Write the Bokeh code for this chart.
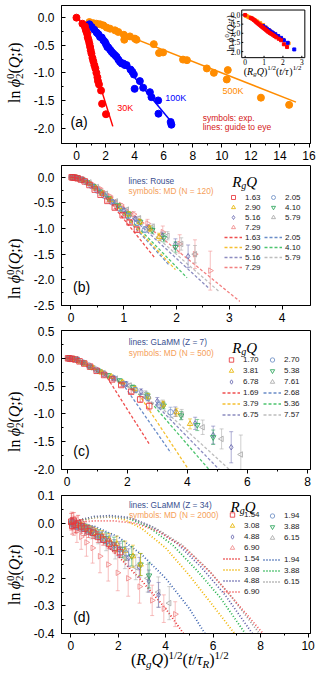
import math
from bokeh.plotting import figure
from bokeh.layouts import column, row
from bokeh.models import Range1d, FixedTicker, PrintfTickFormatter, Label, Legend, LegendItem, Div
from bokeh.embed import file_html
from bokeh.resources import INLINE

SANS = "Liberation Sans"
SERIF = "Liberation Serif"

# ---------------- panel (a): experiment ----------------
A30_X = [0.0, 0.41, 0.59, 0.66, 0.75, 0.78, 0.84, 0.89, 0.94, 0.98, 1.03, 1.10, 1.16, 1.23, 1.30, 1.37, 1.44, 1.48, 1.55, 1.69, 1.76, 2.03]
A30_Y = [0.0, -0.11, -0.16, -0.23, -0.29, -0.36, -0.41, -0.47, -0.53, -0.59, -0.65, -0.73, -0.79, -0.86, -0.92, -1.00, -1.08, -1.15, -1.21, -1.32, -1.56, -1.75]
A100_X = [0.89, 1.05, 1.23, 1.39, 1.51, 1.62, 1.74, 1.85, 1.96, 2.03, 2.12, 2.19, 2.31, 2.42, 2.53, 2.65, 2.76, 2.88, 2.99, 3.11, 3.22, 3.33, 3.45, 3.72, 3.84, 3.95, 4.36, 4.00, 4.59, 5.05, 5.16, 5.62, 5.64, 6.48, 6.53]
A100_Y = [-0.12, -0.17, -0.22, -0.27, -0.30, -0.35, -0.36, -0.41, -0.44, -0.48, -0.53, -0.54, -0.58, -0.62, -0.65, -0.68, -0.71, -0.76, -0.80, -0.83, -0.83, -0.86, -0.86, -0.94, -0.98, -1.03, -1.15, -1.29, -1.27, -1.35, -1.44, -1.50, -1.74, -1.89, -1.94]
A500_X = [0.89, 1.16, 1.39, 1.62, 1.85, 2.08, 2.31, 2.65, 2.88, 3.26, 3.68, 4.02, 4.13, 3.29, 5.32, 5.68, 5.96, 7.33, 7.60, 8.97, 9.45, 10.41, 10.34, 12.69, 14.63]
A500_Y = [-0.08, -0.10, -0.11, -0.12, -0.14, -0.18, -0.20, -0.23, -0.26, -0.31, -0.34, -0.38, -0.40, -0.40, -0.48, -0.64, -0.63, -0.76, -0.77, -0.92, -1.00, -0.95, -1.12, -1.45, -1.58]
FIT30_X = [0.2, 2.5]
FIT30_Y = [-0.03, -1.97]
FIT100_X = [0.9, 6.75]
FIT100_Y = [-0.10, -1.96]
FIT500_X = [0.8, 15.1]
FIT500_Y = [-0.05, -1.53]
# inset
INS_RED_X = [0.0, 0.3, 0.38, 0.45, 0.5, 0.55, 0.6, 0.66, 0.72, 0.78, 0.84, 0.9, 0.96, 1.02, 1.08, 1.15, 1.22, 1.3, 1.38, 1.46, 1.55, 1.65, 1.78, 1.9, 2.05, 2.22]
INS_RED_Y = [0.0, 0.16, 0.2, 0.26, 0.3, 0.35, 0.4, 0.45, 0.5, 0.55, 0.6, 0.65, 0.7, 0.75, 0.8, 0.86, 0.92, 0.98, 1.03, 1.08, 1.15, 1.22, 1.3, 1.38, 1.6, 1.75]
INS_ORA_X = [0.05, 0.12, 0.2, 0.28, 0.36, 0.45, 0.55, 0.65, 0.8, 0.95, 1.1, 1.3, 1.5, 1.75, 2.0, 2.3]
INS_ORA_Y = [0.05, 0.08, 0.12, 0.16, 0.2, 0.25, 0.3, 0.36, 0.45, 0.55, 0.68, 0.85, 1.0, 1.2, 1.35, 1.55]
INS_BLU_X = [0.95, 1.05, 1.15, 1.25, 1.35, 1.45, 1.6, 1.75, 1.9, 2.05, 2.25, 2.6]
INS_BLU_Y = [0.6, 0.68, 0.75, 0.82, 0.9, 0.96, 1.05, 1.15, 1.25, 1.38, 1.52, 1.88]
INS_XT = [0, 1, 2, 3]
INS_YT = [0.0, 0.5, 1.0, 1.5, 2.0]

# ---------------- panel (b): Rouse / MD N=120 ----------------
B_Q = ["1.63", "2.05", "2.90", "4.10", "5.16", "5.79", "7.29"]
B_X_163 = [0.013, 0.038, 0.075, 0.125, 0.19, 0.26, 0.35, 0.45, 0.56, 0.69, 0.83, 0.98, 1.11, 1.25]
B_Y_163 = [0.0, -0.003, -0.008, -0.02, -0.045, -0.08, -0.15, -0.24, -0.34, -0.46, -0.59, -0.74, -0.88, -1.02]
B_E_163 = [0.005, 0.005, 0.006, 0.008, 0.01, 0.012, 0.015, 0.018, 0.02, 0.025, 0.03, 0.035, 0.04, 0.05]
B_X_205 = [0.014, 0.042, 0.084, 0.14, 0.21, 0.29, 0.39, 0.5, 0.63, 0.77, 0.92, 1.09, 1.25, 1.4]
B_Y_205 = [0.0, -0.003, -0.009, -0.022, -0.05, -0.095, -0.17, -0.26, -0.36, -0.48, -0.61, -0.75, -0.89, -1.02]
B_E_205 = [0.005, 0.005, 0.006, 0.008, 0.01, 0.012, 0.015, 0.02, 0.025, 0.03, 0.035, 0.045, 0.05, 0.06]
B_X_290 = [0.017, 0.05, 0.1, 0.167, 0.25, 0.35, 0.47, 0.6, 0.75, 0.92, 1.1, 1.3, 1.49, 1.67]
B_Y_290 = [0.0, -0.003, -0.01, -0.038, -0.072, -0.125, -0.21, -0.32, -0.44, -0.58, -0.72, -0.87, -1.0, -1.16]
B_E_290 = [0.005, 0.005, 0.006, 0.008, 0.01, 0.013, 0.016, 0.02, 0.025, 0.03, 0.04, 0.05, 0.06, 0.07]
B_X_410 = [0.02, 0.06, 0.12, 0.2, 0.3, 0.42, 0.55, 0.71, 0.89, 1.09, 1.31, 1.54, 1.76, 1.98]
B_Y_410 = [0.0, -0.002, -0.013, -0.042, -0.095, -0.17, -0.28, -0.41, -0.55, -0.71, -0.87, -1.03, -1.18, -1.36]
B_E_410 = [0.005, 0.005, 0.006, 0.008, 0.01, 0.013, 0.017, 0.022, 0.028, 0.035, 0.045, 0.06, 0.08, 0.1]
B_X_516 = [0.022, 0.067, 0.133, 0.22, 0.33, 0.47, 0.62, 0.8, 1.0, 1.22, 1.47, 1.73, 1.98, 2.22]
B_Y_516 = [0.0, -0.003, -0.018, -0.045, -0.105, -0.2, -0.33, -0.48, -0.64, -0.81, -0.98, -1.14, -1.3, -1.54]
B_E_516 = [0.005, 0.005, 0.006, 0.008, 0.01, 0.014, 0.018, 0.024, 0.03, 0.04, 0.05, 0.07, 0.1, 0.22]
B_X_579 = [0.024, 0.07, 0.14, 0.235, 0.35, 0.49, 0.66, 0.85, 1.06, 1.29, 1.55, 1.83, 2.09, 2.35]
B_Y_579 = [0.0, -0.003, -0.018, -0.05, -0.1, -0.19, -0.32, -0.47, -0.63, -0.8, -0.97, -1.14, -1.3, -1.5]
B_E_579 = [0.005, 0.005, 0.006, 0.008, 0.01, 0.014, 0.018, 0.024, 0.03, 0.04, 0.06, 0.08, 0.12, 0.17]
B_X_729 = [0.026, 0.08, 0.16, 0.26, 0.4, 0.55, 0.74, 0.95, 1.19, 1.45, 1.74, 2.06, 2.35, 2.64]
B_Y_729 = [0.0, -0.004, -0.02, -0.055, -0.13, -0.22, -0.37, -0.54, -0.72, -0.9, -1.07, -1.3, -1.5, -1.82]
B_E_729 = [0.005, 0.005, 0.006, 0.008, 0.01, 0.014, 0.02, 0.028, 0.05, 0.08, 0.12, 0.18, 0.28, 0.38]
BL_Q = ["1.63", "2.05", "2.90", "4.10", "5.16", "5.79", "7.29"]
BL_X_163 = [0.0, 0.2, 0.4, 0.6, 1.58]
BL_Y_163 = [0.0, -0.05, -0.16, -0.3, -1.56]
BL_X_205 = [0.0, 0.2, 0.4, 0.6, 1.85]
BL_Y_205 = [0.0, -0.05, -0.15, -0.29, -1.7]
BL_X_290 = [0.0, 0.2, 0.4, 0.6, 1.98]
BL_Y_290 = [0.0, -0.045, -0.15, -0.28, -1.8]
BL_X_410 = [0.0, 0.2, 0.4, 0.6, 2.2]
BL_Y_410 = [0.0, -0.045, -0.14, -0.27, -1.96]
BL_X_516 = [0.0, 0.2, 0.4, 0.6, 2.62]
BL_Y_516 = [0.0, -0.04, -0.13, -0.26, -2.17]
BL_X_579 = [0.0, 0.2, 0.4, 0.6, 2.8]
BL_Y_579 = [0.0, -0.04, -0.13, -0.25, -2.22]
BL_X_729 = [0.0, 0.2, 0.4, 0.6, 3.2]
BL_Y_729 = [0.0, -0.04, -0.12, -0.24, -2.42]

# ---------------- panel (c): GLaMM Z=7 / MD N=500 ----------------
C_Q = ["1.70", "2.70", "3.81", "5.38", "6.78", "7.61"]
C_X_170 = [0.027, 0.082, 0.16, 0.27, 0.41, 0.57, 0.76, 0.98, 1.23, 1.5, 1.8, 2.13, 2.43, 2.73]
C_Y_170 = [0.0, -0.003, -0.01, -0.022, -0.055, -0.095, -0.15, -0.225, -0.3, -0.38, -0.48, -0.6, -0.74, -0.86]
C_E_170 = [0.01, 0.01, 0.012, 0.012, 0.015, 0.015, 0.018, 0.02, 0.022, 0.025, 0.03, 0.035, 0.05, 0.07]
C_X_270 = [0.034, 0.1, 0.21, 0.34, 0.52, 0.72, 0.96, 1.24, 1.55, 1.89, 2.27, 2.68, 3.06, 3.44]
C_Y_270 = [0.0, -0.004, -0.012, -0.022, -0.075, -0.13, -0.205, -0.29, -0.36, -0.46, -0.57, -0.71, -0.84, -0.97]
C_E_270 = [0.01, 0.01, 0.012, 0.012, 0.015, 0.018, 0.02, 0.025, 0.03, 0.035, 0.045, 0.055, 0.07, 0.09]
C_X_381 = [0.04, 0.12, 0.25, 0.41, 0.61, 0.86, 1.15, 1.47, 1.84, 2.25, 2.7, 3.19, 3.64, 4.09]
C_Y_381 = [0.0, -0.005, -0.014, -0.055, -0.1, -0.175, -0.255, -0.33, -0.43, -0.55, -0.69, -0.83, -0.97, -1.18]
C_E_381 = [0.01, 0.01, 0.012, 0.014, 0.016, 0.02, 0.024, 0.028, 0.034, 0.04, 0.05, 0.06, 0.07, 0.09]
C_X_538 = [0.05, 0.15, 0.29, 0.49, 0.73, 1.02, 1.36, 1.75, 2.19, 2.67, 3.21, 3.79, 4.33, 4.86]
C_Y_538 = [0.0, -0.006, -0.02, -0.075, -0.145, -0.22, -0.305, -0.4, -0.52, -0.67, -0.85, -1.03, -1.2, -1.42]
C_E_538 = [0.01, 0.01, 0.012, 0.014, 0.018, 0.022, 0.027, 0.033, 0.04, 0.05, 0.06, 0.075, 0.1, 0.13]
C_X_678 = [0.055, 0.16, 0.33, 0.55, 0.82, 1.15, 1.53, 1.97, 2.46, 3.0, 3.6, 4.26, 4.86, 5.46]
C_Y_678 = [0.0, -0.007, -0.024, -0.085, -0.165, -0.245, -0.345, -0.46, -0.6, -0.77, -0.96, -1.17, -1.38, -1.6]
C_E_678 = [0.01, 0.01, 0.012, 0.015, 0.02, 0.025, 0.03, 0.04, 0.05, 0.065, 0.085, 0.11, 0.16, 0.28]
C_X_761 = [0.058, 0.17, 0.35, 0.58, 0.87, 1.21, 1.62, 2.08, 2.6, 3.18, 3.81, 4.51, 5.14, 5.78]
C_Y_761 = [0.0, -0.008, -0.028, -0.09, -0.175, -0.265, -0.365, -0.49, -0.64, -0.82, -1.01, -1.24, -1.45, -1.73]
C_E_761 = [0.01, 0.01, 0.012, 0.015, 0.02, 0.025, 0.03, 0.04, 0.055, 0.07, 0.09, 0.13, 0.18, 0.35]
CL_Q = ["1.69", "2.68", "3.79", "5.36", "6.75", "7.57"]
CL_X_169 = [0.0, 0.5, 1.0, 1.3, 2.73]
CL_Y_169 = [0.0, -0.1, -0.22, -0.32, -1.54]
CL_X_268 = [0.0, 0.5, 1.0, 1.5, 1.9, 3.45]
CL_Y_268 = [0.0, -0.1, -0.22, -0.35, -0.5, -1.7]
CL_X_379 = [0.0, 0.5, 1.0, 1.5, 2.0, 2.4, 4.1]
CL_Y_379 = [0.0, -0.1, -0.22, -0.35, -0.5, -0.66, -2.05]
CL_X_536 = [0.0, 0.5, 1.0, 1.5, 2.0, 2.8, 4.8]
CL_Y_536 = [0.0, -0.1, -0.22, -0.35, -0.5, -0.8, -2.05]
CL_X_675 = [0.0, 0.5, 1.0, 1.5, 2.0, 3.0, 5.15]
CL_Y_675 = [0.0, -0.1, -0.22, -0.35, -0.5, -0.86, -2.05]
CL_X_757 = [0.0, 0.5, 1.0, 1.5, 2.0, 3.2, 5.5]
CL_Y_757 = [0.0, -0.1, -0.22, -0.35, -0.5, -0.92, -2.05]

# ---------------- panel (d): GLaMM Z=34 / MD N=2000 ----------------
D_Q = ["1.54", "1.94", "3.08", "3.88", "4.88", "6.15", "6.90"]
D_X_154 = [0.021, 0.062, 0.125, 0.21, 0.31, 0.44, 0.58, 0.75, 0.94, 1.14, 1.37, 1.62, 1.85, 2.08]
D_Y_154 = [0.005, -0.01, 0.008, -0.006, 0.0, -0.012, -0.02, -0.03, -0.035, -0.05, -0.06, -0.075, -0.09, -0.105]
D_E_154 = [0.03, 0.03, 0.03, 0.028, 0.028, 0.025, 0.025, 0.022, 0.02, 0.02, 0.02, 0.018, 0.018, 0.018]
D_X_194 = [0.023, 0.07, 0.14, 0.233, 0.35, 0.49, 0.65, 0.84, 1.05, 1.28, 1.54, 1.82, 2.07, 2.33]
D_Y_194 = [0.0, 0.004, -0.003, -0.008, -0.01, -0.016, -0.022, -0.03, -0.04, -0.052, -0.065, -0.08, -0.095, -0.11]
D_E_194 = [0.015, 0.015, 0.015, 0.015, 0.015, 0.015, 0.015, 0.015, 0.015, 0.018, 0.018, 0.02, 0.022, 0.025]
D_X_308 = [0.03, 0.09, 0.18, 0.29, 0.44, 0.62, 0.82, 1.06, 1.32, 1.62, 1.94, 2.29, 2.62, 2.94]
D_Y_308 = [0.0, 0.0, -0.003, -0.006, -0.01, -0.017, -0.025, -0.035, -0.045, -0.06, -0.075, -0.1, -0.12, -0.15]
D_E_308 = [0.01, 0.01, 0.01, 0.01, 0.012, 0.012, 0.014, 0.016, 0.018, 0.022, 0.028, 0.035, 0.04, 0.04]
D_X_388 = [0.033, 0.1, 0.2, 0.33, 0.5, 0.69, 0.92, 1.19, 1.49, 1.82, 2.18, 2.57, 2.94, 3.3]
D_Y_388 = [0.0, -0.002, -0.005, -0.008, -0.013, -0.02, -0.03, -0.042, -0.055, -0.075, -0.095, -0.12, -0.15, -0.19]
D_E_388 = [0.01, 0.01, 0.01, 0.012, 0.012, 0.014, 0.016, 0.018, 0.02, 0.024, 0.03, 0.035, 0.04, 0.045]
D_X_488 = [0.037, 0.11, 0.22, 0.37, 0.56, 0.78, 1.04, 1.33, 1.67, 2.04, 2.44, 2.89, 3.29, 3.7]
D_Y_488 = [0.0, -0.002, -0.006, -0.01, -0.016, -0.025, -0.037, -0.05, -0.07, -0.095, -0.125, -0.16, -0.21, -0.26]
D_E_488 = [0.01, 0.01, 0.012, 0.012, 0.014, 0.016, 0.018, 0.02, 0.024, 0.028, 0.032, 0.036, 0.04, 0.045]
D_X_615 = [0.04, 0.125, 0.25, 0.415, 0.62, 0.87, 1.16, 1.49, 1.87, 2.28, 2.74, 3.24, 3.69, 4.15]
D_Y_615 = [0.0, -0.003, -0.008, -0.014, -0.022, -0.035, -0.05, -0.07, -0.095, -0.125, -0.16, -0.2, -0.25, -0.29]
D_E_615 = [0.015, 0.015, 0.015, 0.018, 0.02, 0.022, 0.025, 0.03, 0.035, 0.04, 0.045, 0.05, 0.055, 0.06]
D_X_690 = [0.044, 0.13, 0.26, 0.44, 0.66, 0.92, 1.23, 1.58, 1.98, 2.42, 2.9, 3.43, 3.92, 4.4]
D_Y_690 = [0.01, -0.01, -0.03, -0.05, -0.07, -0.09, -0.12, -0.15, -0.18, -0.2, -0.23, -0.28, -0.31, -0.33]
D_E_690 = [0.03, 0.035, 0.04, 0.045, 0.05, 0.055, 0.06, 0.06, 0.065, 0.065, 0.06, 0.055, 0.05, 0.045]
DL_Q = ["1.54", "1.94", "3.08", "3.88", "4.88", "6.15", "6.90"]
DL_X_154 = [0.0, 0.5, 1.0, 2.0, 3.0, 4.0, 4.75]
DL_Y_154 = [0.0, -0.015, -0.04, -0.12, -0.21, -0.31, -0.4]
DL_X_194 = [0.0, 0.5, 1.0, 2.0, 3.0, 4.0, 5.0, 5.65]
DL_Y_194 = [0.0, -0.003, -0.012, -0.05, -0.115, -0.2, -0.31, -0.4]
DL_X_308 = [0.0, 0.5, 1.0, 1.6, 2.2, 3.0, 4.0, 5.0, 6.0, 6.9]
DL_Y_308 = [0.0, 0.012, 0.02, 0.022, 0.015, -0.02, -0.09, -0.19, -0.3, -0.4]
DL_X_388 = [0.0, 0.5, 1.0, 1.7, 2.4, 3.3, 4.3, 5.3, 6.3, 7.35]
DL_Y_388 = [0.0, 0.013, 0.022, 0.025, 0.018, -0.015, -0.08, -0.17, -0.27, -0.4]
DL_X_488 = [0.0, 0.5, 1.0, 1.7, 2.5, 3.4, 4.5, 5.5, 6.5, 7.65]
DL_Y_488 = [0.0, 0.014, 0.024, 0.027, 0.02, -0.012, -0.075, -0.16, -0.26, -0.4]
DL_X_615 = [0.0, 0.5, 1.0, 1.7, 2.6, 3.6, 4.7, 5.8, 6.8, 7.95]
DL_Y_615 = [0.0, 0.012, 0.02, 0.023, 0.015, -0.02, -0.08, -0.17, -0.27, -0.4]
DL_X_690 = [0.0, 0.5, 1.0, 1.8, 2.7, 3.7, 4.8, 5.9, 6.9, 8.1]
DL_Y_690 = [0.0, 0.005, 0.008, 0.008, 0.0, -0.03, -0.09, -0.18, -0.28, -0.4]

# styles (colours / markers)
SYM_COL = ["#e8383d", "#6f8fc6", "#e6b400", "#2ca55a", "#6b6bb0", "#a8a8a8", "#f08a8a"]
LIN_COL = ["#ef4f4f", "#6a8cc8", "#f5c030", "#4cc46e", "#8c8cc0", "#bdbdbd", "#f28080"]
DOT_COL = ["#e8292b", "#3d64b0", "#f0b400", "#23b14d", "#5a5aa5", "#999999", "#f05a5a"]
MARKERS = [("square", 0.0), ("circle", 0.0), ("triangle", 0.0), ("inverted_triangle", 0.0),
           ("diamond", 0.0), ("triangle", math.pi / 2), ("triangle", -math.pi / 2)]

FIG_W = 294        # figure width (plus 26 px label column = 320)
YL_W = 26


def make_fig(height, top, bottom, xr, yr, xt, xm, yt, ym, yfmt):
    p = figure(width=FIG_W, height=height, x_range=Range1d(*xr), y_range=Range1d(*yr),
               output_backend="svg", toolbar_location=None,
               min_border_left=35, min_border_right=10, min_border_top=top, min_border_bottom=bottom)
    p.grid.visible = False
    p.outline_line_color = "black"
    p.outline_line_alpha = 1.0
    p.outline_line_width = 1
    p.xaxis.ticker = FixedTicker(ticks=xt, minor_ticks=xm)
    p.yaxis.ticker = FixedTicker(ticks=yt, minor_ticks=ym)
    p.xaxis.formatter = PrintfTickFormatter(format="%d")
    p.yaxis.formatter = PrintfTickFormatter(format=yfmt)
    for ax in (p.xaxis, p.yaxis):
        ax.major_label_text_font = SANS
        ax.major_label_text_font_size = "12px"
        ax.major_label_text_color = "black"
        ax.axis_line_color = "black"
        ax.major_tick_line_color = "black"
        ax.minor_tick_line_color = "black"
    p.xaxis.major_tick_out = 4
    p.xaxis.major_tick_in = 0
    p.xaxis.minor_tick_out = 2
    p.xaxis.minor_tick_in = 0
    p.yaxis.major_tick_out = 0
    p.yaxis.major_tick_in = 4
    p.yaxis.minor_tick_out = 0
    p.yaxis.minor_tick_in = 2
    p.xaxis.major_label_standoff = 3
    p.yaxis.major_label_standoff = 7
    return p


def compose(p, x, y, xo, yo, pieces, scale=1.0, vertical=False, color="black"):
    adv = 0.0
    for text, size, style, shift, w in pieces:
        s = size * scale
        sh = shift * scale
        if vertical:
            lx, ly, ang = xo - sh, yo + adv, math.pi / 2
        else:
            lx, ly, ang = xo + adv, yo + sh, 0.0
        p.add_layout(Label(x=x, y=y, x_offset=lx, y_offset=ly, text=text, angle=ang,
                           text_font=SERIF, text_font_size=f"{s:.1f}px", text_font_style=style,
                           text_color=color, text_baseline="alphabetic", text_align="left"))
        adv += w * s


YLAB = [("ln", 16, "normal", 0, 0.98), ("ϕ", 16, "italic", 0, 0.52),
        ("2", 11, "normal", -3.5, 0.0), ("0", 11, "normal", 6.5, 0.5),
        ("(Q;t)", 16, "italic", 0, 2.0)]
XLAB_INS = [("(", 16, "normal", 0, 0.333), ("R", 16, "italic", 0, 0.611), ("g", 11, "italic", -3.5, 0.5),
            ("Q", 16, "italic", 0, 0.722), (")", 16, "normal", 0, 0.333), ("1/2", 11, "normal", 7, 1.28),
            ("(", 16, "normal", 0, 0.333), ("t/τ", 16, "italic", 0, 1.0),
            (")", 16, "normal", 0, 0.333), ("1/2", 11, "normal", 7, 1.28)]
RGQ = [("R", 15, "italic", 0, 0.611), ("g", 10, "italic", -3.5, 0.5), ("Q", 15, "italic", 0, 0.722)]

SUB = "font-size:11px;vertical-align:-3px;line-height:0;"
SUP = "font-size:11px;vertical-align:6px;line-height:0;"
BASE = "white-space:nowrap;font-family:'Liberation Serif',serif;font-size:16px;line-height:16px;color:#000;"


def ylabel_div(h, start):
    html = (f'<div style="position:relative;width:{YL_W}px;height:{h}px;">'
            f'<div style="position:absolute;left:7px;top:{start}px;transform:rotate(-90deg);'
            f'transform-origin:0 0;{BASE}">'
            f'ln&#8201;<i>ϕ</i><sub style="{SUB}">2</sub>'
            f'<sup style="{SUP}margin-left:-5.5px;">0</sup>(<i>Q</i>;<i>t</i>)</div></div>')
    return Div(text=html, width=YL_W, height=h, margin=0)


def xlabel_div(h, left, top):
    html = (f'<div style="position:relative;width:320px;height:{h}px;">'
            f'<div style="position:absolute;left:{left}px;top:{top}px;{BASE}">'
            f'(<i>R</i><sub style="{SUB}"><i>g</i></sub><i>Q</i>)<sup style="{SUP}">1/2</sup>'
            f'(<i>t</i>/<i>τ</i><sub style="{SUB}"><i>R</i></sub>)<sup style="{SUP}">1/2</sup></div></div>')
    return Div(text=html, width=320, height=h, margin=0)


def txt(p, x, y, text, color, size, align="left", style="normal"):
    p.add_layout(Label(x=x, y=y, text=text, text_color=color, text_font=SANS,
                       text_font_size=size, text_baseline="middle", text_align=align,
                       text_font_style=style))


def md_series(p, xs, ys, es, color, marker, angle):
    lo = [a - b for a, b in zip(ys, es)]
    hi = [a + b for a, b in zip(ys, es)]
    p.segment(x0=xs, y0=lo, x1=xs, y1=hi, line_color=color, line_alpha=0.55, line_width=1)
    p.scatter(x=xs + xs, y=lo + hi, marker="dash", size=4, line_color=color, line_alpha=0.55)
    return p.scatter(x=xs, y=ys, marker=marker, angle=angle, size=5.5, line_color=color,
                     fill_color=None, line_alpha=0.85, line_width=1)


def legends(p, qs, rs, qls, rls, col1_x, col2_x, top, pitch):
    n = len(qs)
    idx1 = list(range(0, n, 2))
    idx2 = list(range(1, n, 2))
    n1 = len(idx1)
    n2 = len(idx2)

    def mk(items, loc):
        lg = Legend(items=items, location=loc, orientation="vertical", glyph_width=18,
                    glyph_height=pitch, label_height=pitch, label_standoff=3, spacing=0,
                    padding=0, margin=0, border_line_alpha=0, background_fill_alpha=0,
                    label_text_font=SANS, label_text_font_size="8px", label_text_color="#222222")
        p.add_layout(lg)

    items1 = [LegendItem(label=qs[i], renderers=[rs[i]]) for i in idx1] + \
             [LegendItem(label=qls[i], renderers=[rls[i]]) for i in idx1]
    mk(items1, (col1_x, round(top - 2 * n1 * pitch)))
    mk([LegendItem(label=qs[i], renderers=[rs[i]]) for i in idx2], (col2_x, round(top - n2 * pitch)))
    top2 = top - n1 * pitch
    mk([LegendItem(label=qls[i], renderers=[rls[i]]) for i in idx2], (col2_x, round(top2 - n2 * pitch)))


# ================= panel (a) =================
AXR = (-1.03, 16.1)
AYR = (-2.28, 0.22)
pa = make_fig(164, 5, 21, AXR, AYR, [0, 2, 4, 6, 8, 10, 12, 14, 16], [1, 3, 5, 7, 9, 11, 13, 15],
              [0.0, -0.5, -1.0, -1.5, -2.0], [-0.25, -0.75, -1.25, -1.75], "%.1f")
pa.line(FIT30_X, FIT30_Y, line_color="#ff0000", line_width=1.5)
pa.line(FIT100_X, FIT100_Y, line_color="#0000ff", line_width=1.5)
pa.line(FIT500_X, FIT500_Y, line_color="#ff8c00", line_width=1.5)
pa.scatter(A500_X, A500_Y, marker="circle", size=7, color="#ff8c00")
pa.scatter(A100_X, A100_Y, marker="circle", size=7, color="#0000ff")
pa.scatter(A30_X, A30_Y, marker="circle", size=7, color="#ff0000")
txt(pa, 2.8, -1.64, "30K", "#ff0000", "9px")
txt(pa, 6.1, -1.46, "100K", "#0000ff", "9px")
txt(pa, 10.05, -1.32, "500K", "#ff8c00", "9px")
txt(pa, -0.41, -1.89, "(a)", "black", "14px")
txt(pa, 8.68, -1.81, "symbols: exp.", "#d42020", "8.5px")
txt(pa, 8.68, -1.99, "lines: guide to eye", "#d42020", "8.5px")

# inset
IX0, IX1, IY0, IY1 = 11.37, 15.71, -0.725, 0.138
pa.quad(left=[IX0], right=[IX1], bottom=[IY0], top=[IY1], fill_color="white", line_color="black", line_width=1)
ISX = (-0.18, 3.16)
ISY = (2.33, -0.27)
ins = pa.subplot(x_source=Range1d(*ISX), y_source=Range1d(*ISY),
                 x_target=Range1d(IX0, IX1), y_target=Range1d(IY0, IY1))
ins.scatter(INS_ORA_X, INS_ORA_Y, marker="square", size=3, color="#ff8c00")
ins.scatter(INS_BLU_X, INS_BLU_Y, marker="square", size=3, color="#0000ff")
ins.scatter(INS_RED_X, INS_RED_Y, marker="square", size=3, color="#ff0000")
ins.segment(x0=INS_XT, y0=[ISY[0]] * len(INS_XT), x1=INS_XT, y1=[ISY[0] - 0.1] * len(INS_XT), line_color="black")
ins.segment(x0=[ISX[0]] * len(INS_YT), y0=INS_YT, x1=[ISX[0] + 0.08] * len(INS_YT), y1=INS_YT, line_color="black")
ins.text(x=INS_XT, y=[ISY[0] + 0.1] * len(INS_XT), text=[str(v) for v in INS_XT], text_align="center",
         text_baseline="top", text_font=SANS, text_font_size="7.5px", text_color="black")
ins.text(x=[ISX[0] - 0.08] * len(INS_YT), y=INS_YT, text=[f"{v:.1f}" for v in INS_YT], text_align="right",
         text_baseline="middle", text_font=SANS, text_font_size="7.5px", text_color="black")
compose(pa, 11.51, -0.98, 0, 0, XLAB_INS, scale=10 / 16)
compose(pa, 10.6, -0.62, 0, 0, YLAB, scale=9.5 / 16, vertical=True)

# ================= panel (b) =================
BXR = (-0.18, 4.54)
BYR = (-2.5, 0.23)
pb = make_fig(162, 1, 21, BXR, BYR, [0, 1, 2, 3, 4], [0.5, 1.5, 2.5, 3.5],
              [0.0, -0.5, -1.0, -1.5, -2.0, -2.5], [-0.25, -0.75, -1.25, -1.75, -2.25], "%.1f")
B_SER = [(B_X_163, B_Y_163, B_E_163), (B_X_205, B_Y_205, B_E_205), (B_X_290, B_Y_290, B_E_290),
         (B_X_410, B_Y_410, B_E_410), (B_X_516, B_Y_516, B_E_516), (B_X_579, B_Y_579, B_E_579),
         (B_X_729, B_Y_729, B_E_729)]
B_LIN = [(BL_X_163, BL_Y_163), (BL_X_205, BL_Y_205), (BL_X_290, BL_Y_290), (BL_X_410, BL_Y_410),
         (BL_X_516, BL_Y_516), (BL_X_579, BL_Y_579), (BL_X_729, BL_Y_729)]
rl_b = [pb.line(lx, ly, line_color=LIN_COL[i], line_width=1.3, line_dash="3 2")
        for i, (lx, ly) in enumerate(B_LIN)]
rs_b = [None] * len(B_SER)
for i in range(len(B_SER) - 1, -1, -1):
    xs, ys, es = B_SER[i]
    rs_b[i] = md_series(pb, xs, ys, es, SYM_COL[i], MARKERS[i][0], MARKERS[i][1])
legends(pb, B_Q, rs_b, BL_Q, rl_b, 163, 203, 112.7, 10)
compose(pb, BXR[0], BYR[1], 170.7, -16, RGQ)
txt(pb, 1.09, -0.064, "lines: Rouse", "#3a4f8f", "8.3px")
txt(pb, 1.09, -0.26, "symbols: MD (N = 120)", "#f5a05a", "8.3px")
txt(pb, 0.04, -2.13, "(b)", "black", "14px")

# ================= panel (c) =================
CXR = (-0.19, 8.1)
CYR = (-2.0, 0.5)
pc = make_fig(164, 4, 21, CXR, CYR, [0, 2, 4, 6, 8], [1, 3, 5, 7],
              [0.5, 0.0, -0.5, -1.0, -1.5, -2.0], [0.25, -0.25, -0.75, -1.25, -1.75], "%.1f")
C_SER = [(C_X_170, C_Y_170, C_E_170), (C_X_270, C_Y_270, C_E_270), (C_X_381, C_Y_381, C_E_381),
         (C_X_538, C_Y_538, C_E_538), (C_X_678, C_Y_678, C_E_678), (C_X_761, C_Y_761, C_E_761)]
C_LINES = [(CL_X_169, CL_Y_169), (CL_X_268, CL_Y_268), (CL_X_379, CL_Y_379), (CL_X_536, CL_Y_536),
           (CL_X_675, CL_Y_675), (CL_X_757, CL_Y_757)]
rl_c = [pc.line(lx, ly, line_color=LIN_COL[i], line_width=1.3, line_dash="3 2")
        for i, (lx, ly) in enumerate(C_LINES)]
rs_c = [None] * len(C_SER)
for i in range(len(C_SER) - 1, -1, -1):
    xs, ys, es = C_SER[i]
    rs_c[i] = md_series(pc, xs, ys, es, SYM_COL[i], MARKERS[i][0], MARKERS[i][1])
legends(pc, C_Q, rs_c, CL_Q, rl_c, 161, 202, 115.2, 11)
compose(pc, CXR[0], CYR[1], 170.7, -17.7, RGQ)
txt(pc, 2.05, 0.30, "lines: GLaMM (Z = 7)", "#3a4f8f", "8.3px")
txt(pc, 2.05, 0.09, "symbols: MD (N = 500)", "#f5a05a", "8.3px")
txt(pc, 0.2, -1.66, "(c)", "black", "14px")

# ================= panel (d) =================
DXR = (-0.39, 10.1)
DYR = (-0.4, 0.1)
pd_ = make_fig(163, 5, 20, DXR, DYR, [0, 2, 4, 6, 8, 10], [1, 3, 5, 7, 9],
               [0.1, 0.0, -0.1, -0.2, -0.3, -0.4], [0.05, -0.05, -0.15, -0.25, -0.35], "%.1f")
D_SER = [(D_X_154, D_Y_154, D_E_154), (D_X_194, D_Y_194, D_E_194), (D_X_308, D_Y_308, D_E_308),
         (D_X_388, D_Y_388, D_E_388), (D_X_488, D_Y_488, D_E_488), (D_X_615, D_Y_615, D_E_615),
         (D_X_690, D_Y_690, D_E_690)]
D_LINES = [(DL_X_154, DL_Y_154), (DL_X_194, DL_Y_194), (DL_X_308, DL_Y_308), (DL_X_388, DL_Y_388),
           (DL_X_488, DL_Y_488), (DL_X_615, DL_Y_615), (DL_X_690, DL_Y_690)]
rl_d = [pd_.line(lx, ly, line_color=DOT_COL[i], line_width=1.8, line_dash="1 2")
        for i, (lx, ly) in enumerate(D_LINES)]
rs_d = [None] * len(D_SER)
for i in range(len(D_SER) - 1, -1, -1):
    xs, ys, es = D_SER[i]
    rs_d[i] = md_series(pd_, xs, ys, es, SYM_COL[i], MARKERS[i][0], MARKERS[i][1])
legends(pd_, D_Q, rs_d, DL_Q, rl_d, 162, 202, 123.5, 11)
compose(pd_, DXR[0], DYR[1], 169, -11, RGQ)
txt(pd_, 2.45, 0.064, "lines: GLaMM (Z = 34)", "#3a4f8f", "8.3px")
txt(pd_, 2.45, 0.03, "symbols: MD (N = 2000)", "#f5a05a", "8.3px")
txt(pd_, 0.1, -0.34, "(d)", "black", "14px")

layout = column(
    row(ylabel_div(164, 103), pa, spacing=0),
    row(ylabel_div(162, 135), pb, spacing=0),
    row(ylabel_div(164, 126), pc, spacing=0),
    row(ylabel_div(163, 115), pd_, spacing=0),
    xlabel_div(22, 131, -1),
    spacing=0,
)
open("out.html", "w").write(file_html(layout, INLINE))
